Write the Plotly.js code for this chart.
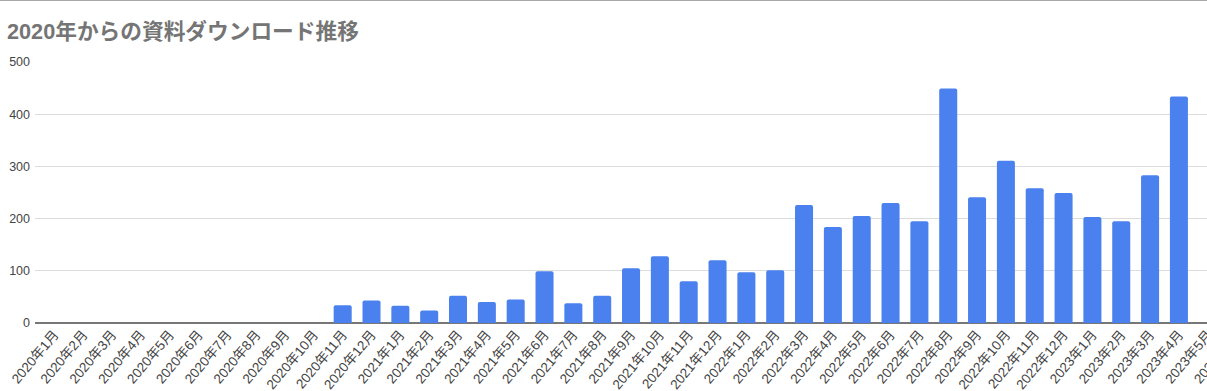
<!DOCTYPE html>
<html>
<head>
<meta charset="utf-8">
<script src="https://cdn.plot.ly/plotly-3.0.1.min.js"></script>
<style>
html, body { margin:0; padding:0; overflow:hidden; background:#fff; width:1207px; height:391px; }
#wrap { position:relative; width:1207px; height:391px; overflow:hidden; }
#topline { position:absolute; left:0; top:0; width:1207px; height:1px; background:#a8a8a8; z-index:5; }
#chart { position:absolute; left:0; top:0; }
</style>
</head>
<body>
<div id="wrap"><div id="topline"></div><div id="chart"></div></div>
<script>
const categories = [
  "2020年1月","2020年2月","2020年3月","2020年4月","2020年5月","2020年6月",
  "2020年7月","2020年8月","2020年9月","2020年10月","2020年11月","2020年12月",
  "2021年1月","2021年2月","2021年3月","2021年4月","2021年5月","2021年6月",
  "2021年7月","2021年8月","2021年9月","2021年10月","2021年11月","2021年12月",
  "2022年1月","2022年2月","2022年3月","2022年4月","2022年5月","2022年6月",
  "2022年7月","2022年8月","2022年9月","2022年10月","2022年11月","2022年12月",
  "2023年1月","2023年2月","2023年3月","2023年4月","2023年5月","2023年6月"
];
const downloads = [
  0,0,0,0,0,0,
  0,0,0,0,34,43,
  33,24,52,40,45,99,
  38,52,105,128,80,120,
  97,101,226,184,205,230,
  195,449,241,311,258,249,
  203,195,283,434,null,null
];
const yTicks = [0,100,200,300,400,500];

const fontFam = '"Liberation Sans", Arial, "Noto Sans CJK JP", sans-serif';

const trace = {
  type: 'bar',
  x: categories,
  y: downloads,
  marker: { color: '#4a81ee', cornerradius: 2 },
  hoverinfo: 'x+y'
};

const W = 1256;
const layout = {
  width: W,
  height: 391,
  margin: { l: 35, r: 5, t: 62, b: 68 },
  paper_bgcolor: '#ffffff',
  plot_bgcolor: '#ffffff',
  bargap: 0.375,
  showlegend: false,
  font: { family: fontFam, color: '#444444' },
  title: {
    text: '<b>2020年からの資料ダウンロード推移</b>',
    font: { family: fontFam, size: 21.7, color: '#757575' },
    xref: 'container', x: 7 / W, xanchor: 'left',
    yref: 'container', y: 1 - 31 / 391, yanchor: 'middle'
  },
  xaxis: {
    type: 'category',
    categoryorder: 'array',
    categoryarray: categories,
    range: [-0.67, 41.5],
    tickangle: -50,
    tickfont: { size: 13.5, color: '#444444', family: fontFam },
    showgrid: false,
    showline: false,
    ticks: '',
    fixedrange: true
  },
  yaxis: {
    range: [0, 500],
    tickvals: yTicks,
    ticktext: yTicks.map(String),
    tickfont: { size: 12.5, color: '#444444', family: fontFam },
    showgrid: true,
    gridcolor: '#dddddd',
    gridwidth: 1,
    zeroline: true,
    zerolinecolor: '#777777',
    zerolinewidth: 1.5,
    showline: false,
    ticks: '',
    ticklabelstandoff: 4,
    fixedrange: true
  }
};

Plotly.newPlot('chart', [trace], layout, { displayModeBar: false, staticPlot: true });
</script>
</body>
</html>
